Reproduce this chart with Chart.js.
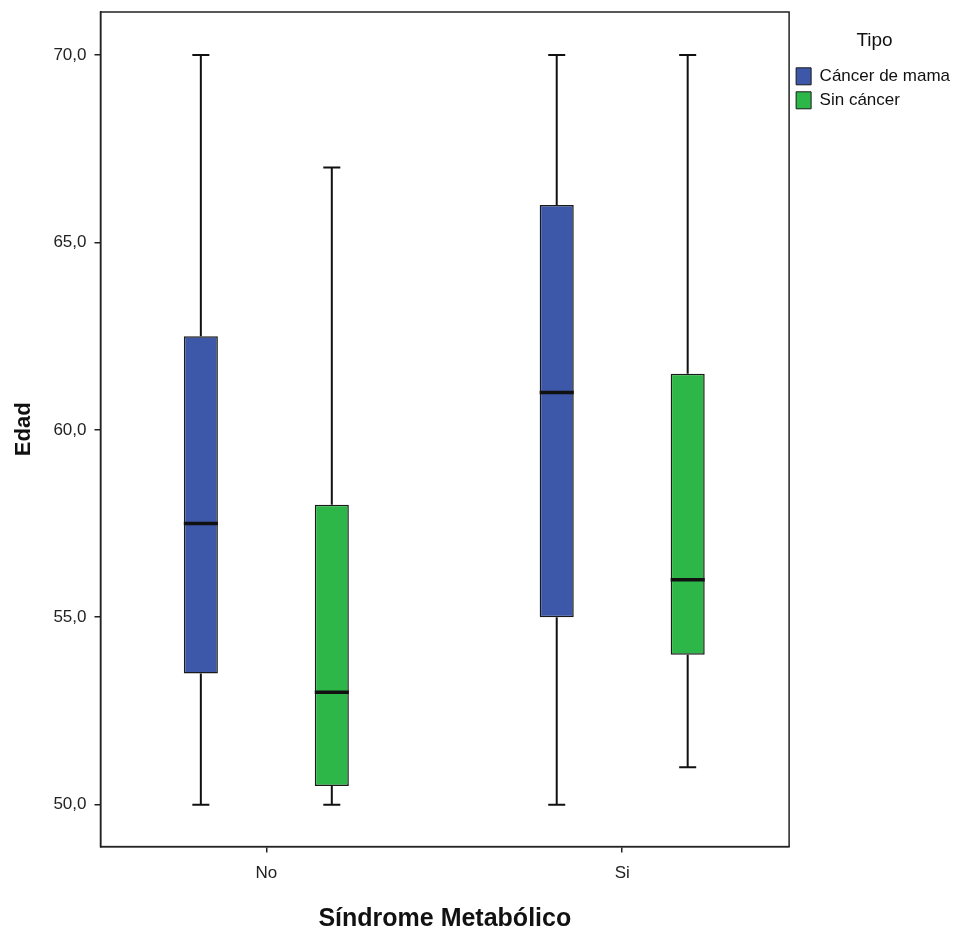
<!DOCTYPE html>
<html>
<head>
<meta charset="utf-8">
<script src="https://cdn.jsdelivr.net/npm/chart.js@4.4.1/dist/chart.umd.min.js"></script>
<style>
  html, body { margin: 0; padding: 0; background: #fff; }
  #wrap { width: 958px; height: 931px; }
</style>
</head>
<body>
<div id="wrap"><canvas id="boxChart"></canvas></div>
<script>
const categories = ['No', 'Si'];
const seriesNames = ['Cáncer de mama', 'Sin cáncer'];
const yTicks = [50, 55, 60, 65, 70];

// five-number summaries per category: [min, q1, median, q3, max]
const cancerMama = [
    [50, 53.5, 57.5, 62.5, 70],
    [50, 55, 61, 66, 70]
];
const sinCancer = [
    [50, 50.5, 53, 58, 67],
    [51, 54, 56, 61.5, 70]
];

const fillColors = ['rgb(61, 87, 169)', 'rgb(46, 183, 73)'];
const summaries = [cancerMama, sinCancer];

// whiskers, caps and medians drawn from the bar elements and y scale
const boxExtras = {
    id: 'boxExtras',
    afterDatasetsDraw(chart) {
        const ctx = chart.ctx;
        const yScale = chart.scales.y;
        ctx.save();
        ctx.strokeStyle = '#111';
        chart.data.datasets.forEach((ds, di) => {
            const meta = chart.getDatasetMeta(di);
            meta.data.forEach((bar, i) => {
                const s = ds.summary[i];
                const x = bar.x;
                const half = bar.width / 2;
                const yMin = yScale.getPixelForValue(s[0]);
                const yQ1 = yScale.getPixelForValue(s[1]);
                const yMed = yScale.getPixelForValue(s[2]);
                const yQ3 = yScale.getPixelForValue(s[3]);
                const yMax = yScale.getPixelForValue(s[4]);
                ctx.lineWidth = 2;
                ctx.beginPath();
                ctx.moveTo(x, yQ3); ctx.lineTo(x, yMax);
                ctx.moveTo(x, yQ1); ctx.lineTo(x, yMin);
                ctx.moveTo(x - half / 2, yMax); ctx.lineTo(x + half / 2, yMax);
                ctx.moveTo(x - half / 2, yMin); ctx.lineTo(x + half / 2, yMin);
                ctx.stroke();
                ctx.lineWidth = 3.5;
                ctx.beginPath();
                ctx.moveTo(x - half, yMed); ctx.lineTo(x + half, yMed);
                ctx.stroke();
            });
        });
        ctx.restore();
    },
    afterDraw(chart) {
        const a = chart.chartArea;
        const ctx = chart.ctx;
        ctx.save();
        ctx.strokeStyle = '#222';
        ctx.lineWidth = 1.5;
        ctx.strokeRect(a.left, a.top, a.right - a.left, a.bottom - a.top);
        ctx.restore();
    }
};

// category index on a linear x axis so the groups sit where the original has them
const datasets = seriesNames.map((name, k) => ({
    label: name,
    data: summaries[k].map((s, i) => ({ x: i, y: [s[1], s[3]] })),
    summary: summaries[k],
    backgroundColor: fillColors[k],
    borderColor: '#1a1a1a',
    borderWidth: 1.5,
    borderSkipped: false,
    categoryPercentage: 0.736,
    barPercentage: 0.26
}));

new Chart(document.getElementById('boxChart').getContext('2d'), {
    type: 'bar',
    data: { datasets: datasets },
    plugins: [boxExtras],
    options: {
        responsive: true,
        maintainAspectRatio: false,
        animation: false,
        layout: { padding: { top: 12, left: 11, right: -2, bottom: -3 } },
        plugins: {
            tooltip: { enabled: false },
            legend: {
                position: 'right',
                align: 'start',
                title: {
                    display: true,
                    text: 'Tipo',
                    color: '#111',
                    font: { family: 'Liberation Sans', size: 19 },
                    padding: { top: 19, bottom: 7 }
                },
                labels: {
                    color: '#111',
                    font: { family: 'Liberation Sans', size: 17 },
                    boxWidth: 15,
                    boxHeight: 17,
                    padding: 7,
                    generateLabels(chart) {
                        return chart.data.datasets.map((ds, i) => ({
                            text: ds.label,
                            fillStyle: ds.backgroundColor,
                            strokeStyle: '#1a1a1a',
                            lineWidth: 1,
                            datasetIndex: i
                        }));
                    }
                }
            }
        },
        scales: {
            x: {
                type: 'linear',
                offset: false,
                min: -0.466,
                max: 1.469,
                afterBuildTicks(scale) {
                    scale.ticks = categories.map((c, i) => ({ value: i }));
                },
                grid: {
                    display: true,
                    offset: false,
                    drawOnChartArea: false,
                    drawTicks: true,
                    tickLength: 6,
                    color: '#222',
                    lineWidth: 1.5
                },
                border: { display: true, color: '#222', width: 1.5 },
                ticks: {
                    color: '#222',
                    font: { family: 'Liberation Sans', size: 17 },
                    padding: 11,
                    callback: function(value) {
                        return categories[value];
                    }
                },
                title: {
                    display: true,
                    text: 'Síndrome Metabólico',
                    color: '#111',
                    font: { family: 'Liberation Sans', size: 25, weight: 'bold' },
                    padding: { top: 9, bottom: 0 }
                }
            },
            y: {
                min: 48.88,
                max: 71.15,
                afterBuildTicks(scale) {
                    scale.ticks = yTicks.map(v => ({ value: v }));
                },
                afterFit(scale) {
                    // no label overhang needed above/below the plot frame
                    scale.paddingTop = 0;
                    scale.paddingBottom = 0;
                },
                grid: {
                    display: true,
                    drawOnChartArea: false,
                    drawTicks: true,
                    tickLength: 6,
                    color: '#222',
                    lineWidth: 1.5
                },
                border: { display: true, color: '#222', width: 1.5 },
                ticks: {
                    color: '#222',
                    font: { family: 'Liberation Sans', size: 17 },
                    padding: 8,
                    callback: function(value) {
                        return Number(value).toFixed(1).replace('.', ',');
                    }
                },
                title: {
                    display: true,
                    text: 'Edad',
                    color: '#111',
                    font: { family: 'Liberation Sans', size: 22, weight: 'bold' },
                    padding: { top: 0, bottom: 8 }
                }
            }
        }
    }
});
</script>
</body>
</html>
